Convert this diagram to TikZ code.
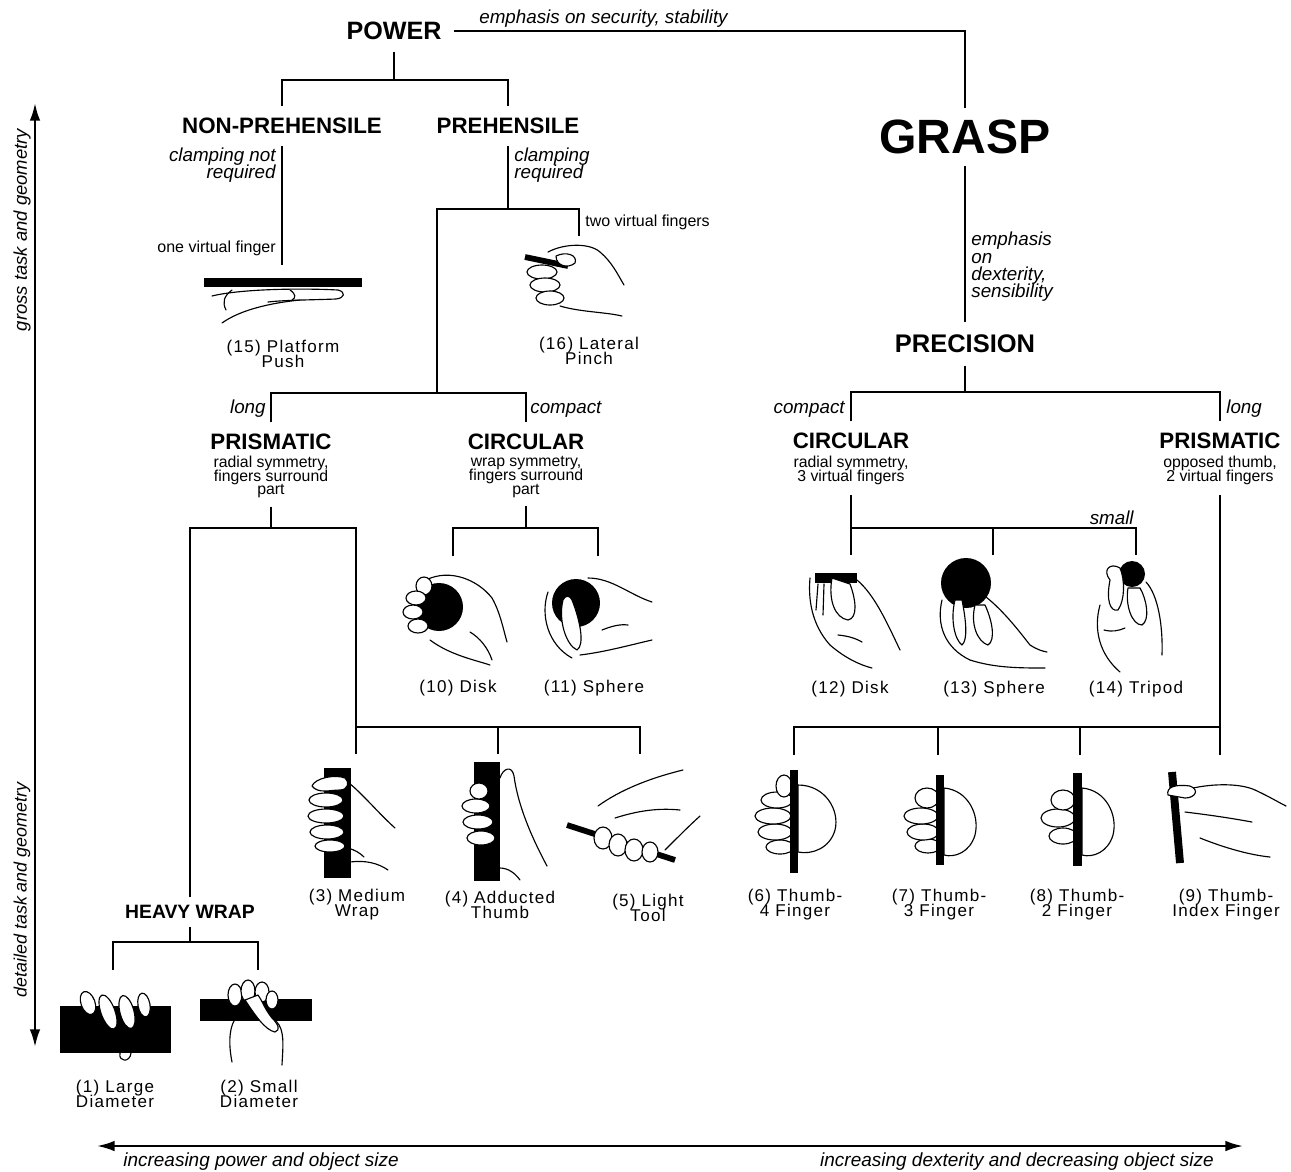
\documentclass[tikz,border=0pt]{standalone}
\usepackage{fontspec}
\setmainfont{Liberation Sans}
\newfontfamily\lspfont[LetterSpace=7.5]{Liberation Sans}
\usetikzlibrary{arrows.meta}
\newcommand\tightls{\lineskiplimit-20pt\relax}
\begin{document}
\begin{tikzpicture}[x=0.02cm,y=-0.02cm,
  tree/.style={line width=0.8pt},
  axis/.style={line width=1.3pt,{Latex[length=10pt,width=6pt]}-{Latex[length=10pt,width=6pt]}},
  cat/.style={font=\bfseries\fontsize{12.7}{14}\selectfont, inner sep=6.5pt},
  desc/.style={font=\fontsize{9}{7.9}\selectfont\tightls, align=center, inner xsep=0pt, inner ysep=4.5pt},
  itl/.style={font=\itshape\fontsize{10.7}{9.4}\selectfont\tightls, inner sep=0pt},
  axlbl/.style={font=\itshape\fontsize{10.5}{12}\selectfont, inner sep=0pt},
  axlblb/.style={font=\itshape\fontsize{10.8}{12}\selectfont, inner sep=0pt},
  note/.style={font=\fontsize{9.1}{10}\selectfont, inner sep=0pt},
  lbl/.style={font=\lspfont\fontsize{9.7}{8.5}\selectfont\tightls, align=center, inner sep=0pt},
  hand/.style={line width=0.65pt, fill=white, line join=round, line cap=round},
  handline/.style={line width=0.65pt, line cap=round, line join=round},
  obj/.style={fill=black}]
\useasboundingbox (0,0) rectangle (1291,1171);

% ---------- axes ----------
\coordinate (axT) at (35,103);
\coordinate (axB) at (35,1047);
\draw[axis] (axT) -- (axB);
\node[axlbl, rotate=90] (gross) at (22,230) {gross task and geometry};
\node[axlbl, font=\itshape\fontsize{10.2}{12}\selectfont, rotate=90] (detail) at (22,890) {detailed task and geometry};
\coordinate (axL) at (97,1146);
\coordinate (axR) at (1243,1146);
\draw[axis] (axL) -- (axR);
\node[axlblb, anchor=west] (incp) at (123,1162) {increasing power and object size};
\node[axlblb, anchor=east] (incd) at (1214,1162) {increasing dexterity and decreasing object size};

% ---------- top ----------
\node[cat, font=\bfseries\fontsize{14.3}{16}\selectfont, inner sep=6.8pt] (power) at (394,31) {POWER};
\node[cat, font=\bfseries\fontsize{27.4}{30}\selectfont, inner sep=6.5pt] (grasp) at (965,137) {GRASP};
\node[cat, font=\bfseries\fontsize{14.5}{16}\selectfont, inner sep=7pt] (prec) at (965,344) {PRECISION};
\draw[tree] (power.east) -- (power.east -| grasp.north) -- (grasp.north);
\node[itl, anchor=base west] (emph1) at (479,23) {emphasis on security, stability};
\draw[tree] (grasp.south) -- (prec.north);
\node[itl, align=left, anchor=west, font=\itshape\fontsize{10.7}{9.9}\selectfont\tightls] (emph2) at (971,267) {emphasis\\on\\dexterity,\\sensibility};

% ---------- power subtree ----------
\coordinate (pj) at (394,80);
\draw[tree] (power.south) -- (pj);
\node[cat] (nonp) at (282,126) {NON-PREHENSILE};
\node[cat] (preh) at (508,126) {PREHENSILE};
\draw[tree] (nonp.north) |- (pj) -| (preh.north);
\node[itl, align=right, anchor=east] (clampn) at (276,165) {clamping not\\required};
\node[itl, align=left, anchor=west] (clampr) at (514,165) {clamping\\required};
\coordinate (g15) at (282,265);
\draw[tree] (nonp.south) -- (g15);
\node[note, anchor=east] (onevf) at (276,248) {one virtual finger};
\coordinate (j2) at (508,209);
\draw[tree] (preh.south) -- (j2);
\coordinate (g16) at (579,236);
\coordinate (j3) at (437,393);
\draw[tree] (j3) |- (j2) -| (g16);
\node[note, anchor=west] (twovf) at (585,222) {two virtual fingers};

\node[cat] (prisL) at (271,442) {PRISMATIC};
\node[cat] (circL) at (526,442) {CIRCULAR};
\draw[tree] (prisL.north) |- (j3) -| (circL.north);
\node[itl, anchor=east] (longL) at (266,409) {long};
\node[itl, anchor=west] (compL) at (530,409) {compact};
\node[desc] (prisLd) at (271,477) {radial symmetry,\\fingers surround\\part};
\node[desc] (circLd) at (526,477) {wrap symmetry,\\fingers surround\\part};

\coordinate (j4) at (271,528);
\draw[tree] (prisLd.south) -- (j4);
\node[cat, font=\bfseries\fontsize{11}{13}\selectfont, inner sep=4.3pt] (heavy) at (190,912) {HEAVY WRAP};
\coordinate (j5) at (356,727);
\draw[tree] (heavy.north) |- (j4) -| (j5);
\coordinate (g3) at (356,754);
\coordinate (g4) at (498,754);
\coordinate (g5) at (640,754);
\draw[tree] (g3) |- (j5) -| (g5);
\draw[tree] (g4) -- (g4 |- j5);
\coordinate (j6) at (190,942);
\draw[tree] (heavy.south) -- (j6);
\coordinate (g1) at (113,970);
\coordinate (g2) at (258,970);
\draw[tree] (g1) |- (j6) -| (g2);

\coordinate (j7) at (526,528);
\draw[tree] (circLd.south) -- (j7);
\coordinate (g10) at (453,556);
\coordinate (g11) at (598,556);
\draw[tree] (g10) |- (j7) -| (g11);

% ---------- precision subtree ----------
\coordinate (j8) at (965,392);
\draw[tree] (prec.south) -- (j8);
\node[cat] (circR) at (851,441) {CIRCULAR};
\node[cat] (prisR) at (1220,441) {PRISMATIC};
\draw[tree] (circR.north) |- (j8) -| (prisR.north);
\node[itl, anchor=east] (compR) at (845,409) {compact};
\node[itl, anchor=west] (longR) at (1226,409) {long};
\node[desc, inner ysep=6pt] (circRd) at (851,470) {radial symmetry,\\3 virtual fingers};
\node[desc, inner ysep=6pt] (prisRd) at (1220,470) {opposed thumb,\\2 virtual fingers};

\coordinate (j9) at (851,528);
\coordinate (g12) at (851,555);
\coordinate (g13) at (993,555);
\coordinate (g14) at (1136,555);
\draw[tree] (circRd.south) -- (g12);
\draw[tree] (j9) -| (g14);
\draw[tree] (g13) -- (g13 |- j9);
\node[itl, anchor=east] (small) at (1134,518) {small};

\coordinate (j10) at (1220,727);
\coordinate (g6) at (794,755);
\coordinate (g7) at (938,755);
\coordinate (g8) at (1080,755);
\coordinate (g9) at (1220,755);
\draw[tree] (prisRd.south) -- (g9);
\draw[tree] (g6) |- (j10);
\draw[tree] (g7) -- (g7 |- j10);
\draw[tree] (g8) -- (g8 |- j10);

% ---------- labels ----------
\node[lbl] (l15) at (283,354) {(15) Platform\\Push};
\node[lbl] (l16) at (589,351) {(16) Lateral\\Pinch};
\node[lbl] (l10) at (458,688) {(10) Disk};
\node[lbl] (l11) at (594,688) {(11) Sphere};
\node[lbl] (l12) at (850,689) {(12) Disk};
\node[lbl] (l13) at (994,689) {(13) Sphere};
\node[lbl] (l14) at (1136,689) {(14) Tripod};
\node[lbl] (l3) at (357,905) {(3) Medium\\Wrap};
\node[lbl] (l4) at (500,905) {(4) Adducted\\Thumb};
\node[lbl] (l5) at (648,908) {(5) Light\\Tool};
\node[lbl] (l6) at (795,905) {(6) Thumb-\\4 Finger};
\node[lbl] (l7) at (939,905) {(7) Thumb-\\3 Finger};
\node[lbl] (l8) at (1077,905) {(8) Thumb-\\2 Finger};
\node[lbl] (l9) at (1226,905) {(9) Thumb-\\Index Finger};
\node[lbl] (l1) at (115,1094) {(1) Large\\Diameter};
\node[lbl] (l2) at (259,1094) {(2) Small\\Diameter};

% ---------- hand pictures ----------
% (15) platform push
\fill[obj] (204,278) rectangle (362,287);
\draw[handline] (212,296) .. controls (240,289) and (300,288) .. (338,290) .. controls (346,292) and (345,298) .. (336,299) .. controls (310,300) and (285,300) .. (268,302);
\draw[handline] (222,323) .. controls (240,310) and (270,303) .. (300,300);
\draw[handline] (232,290) .. controls (224,296) and (222,302) .. (226,310);
\draw[handline] (290,290) .. controls (296,294) and (296,298) .. (292,300);

% (16) lateral pinch
\draw[handline] (548,252) .. controls (565,243) and (590,243) .. (600,252) .. controls (612,262) and (618,275) .. (624,285);
\draw[hand] (542,272) ellipse (15 and 7);
\draw[hand] (545,285) ellipse (15 and 7);
\draw[hand] (550,298) ellipse (14 and 7);
\draw[handline] (560,306) .. controls (580,312) and (605,312) .. (622,316);
\draw[line width=3.3pt] (525,257) -- (568,266);
\draw[hand] (556,256) .. controls (566,251) and (578,255) .. (575,263) .. controls (568,269) and (556,266) .. cycle;

% (10) disk (power)
\fill[obj] (439,607) circle (24);
\draw[handline] (426,580) .. controls (450,568) and (478,580) .. (492,598) .. controls (500,612) and (503,628) .. (507,642);
\draw[handline] (430,640) .. controls (450,655) and (475,660) .. (490,665);
\draw[handline] (470,632) .. controls (480,638) and (488,648) .. (492,660);
\draw[hand] (424,586) ellipse (8 and 9);
\draw[hand] (416,598) ellipse (10 and 7);
\draw[hand] (413,612) ellipse (10 and 7);
\draw[hand] (418,626) ellipse (10 and 7);

% (11) sphere (power)
\fill[obj] (576,603) circle (24);
\draw[handline] (548,592) .. controls (540,615) and (548,645) .. (572,658);
\draw[handline] (580,655) .. controls (605,652) and (630,645) .. (652,640);
\draw[handline] (588,578) .. controls (612,578) and (630,595) .. (652,602);
\draw[handline] (602,630) .. controls (612,626) and (620,624) .. (628,625);
\draw[hand] (563,600) .. controls (558,620) and (566,645) .. (577,650) .. controls (585,645) and (580,620) .. (572,600) .. controls (570,595) and (565,595) .. cycle;

% (12) disk (precision)
\draw[handline] (810,578) .. controls (808,600) and (812,625) .. (830,645) .. controls (845,658) and (860,665) .. (872,668);
\draw[handline] (857,580) .. controls (875,595) and (888,625) .. (900,650);
\draw[handline] (838,635) .. controls (848,636) and (855,638) .. (862,642);
\fill[obj] (815,573) rectangle (857,583);
\draw[hand] (832,578) .. controls (828,600) and (835,618) .. (848,620) .. controls (858,618) and (856,600) .. (850,584) -- cycle;
\draw[handline] (818,584) -- (816,610);
\draw[handline] (824,584) -- (823,615);

% (13) sphere (precision)
\fill[obj] (966,583) circle (25);
\draw[handline] (942,600) .. controls (936,625) and (945,648) .. (970,660) .. controls (995,668) and (1020,668) .. (1045,668);
\draw[handline] (986,597) .. controls (1005,612) and (1022,635) .. (1030,645) .. controls (1038,650) and (1042,651) .. (1047,652);
\draw[hand] (955,600) .. controls (950,620) and (955,640) .. (962,645) .. controls (968,640) and (966,620) .. (962,600) -- cycle;
\draw[hand] (975,605) .. controls (970,625) and (978,642) .. (988,645) .. controls (996,640) and (992,620) .. (985,605) -- cycle;

% (14) tripod
\fill[obj] (1132,574) circle (13);
\draw[handline] (1100,605) .. controls (1093,630) and (1100,655) .. (1120,672);
\draw[handline] (1146,582) .. controls (1158,595) and (1163,625) .. (1162,655);
\draw[handline] (1104,630) .. controls (1112,632) and (1118,631) .. (1125,628);
\draw[hand] (1110,580) .. controls (1102,570) and (1110,562) .. (1120,568) .. controls (1125,580) and (1125,600) .. (1118,610) .. controls (1110,612) and (1106,600) .. cycle;
\draw[hand] (1128,588) .. controls (1125,605) and (1132,625) .. (1142,625) .. controls (1150,620) and (1147,600) .. (1140,588) -- cycle;

% (3) medium wrap
\fill[obj] (324,768) rectangle (351,878);
\draw[handline] (340,776) .. controls (360,790) and (375,810) .. (395,828);
\draw[handline] (350,862) .. controls (365,860) and (378,863) .. (388,870);
\draw[handline] (348,848) .. controls (355,850) and (360,853) .. (364,857);
\draw[hand] (330,846) ellipse (15 and 6);
\draw[hand] (327,832) ellipse (17 and 7);
\draw[hand] (326,816) ellipse (18 and 7);
\draw[hand] (326,800) ellipse (17 and 7);
\draw[hand] (312,786) .. controls (315,778) and (335,774) .. (345,778) .. controls (350,782) and (348,790) .. (340,790) .. controls (330,790) and (318,794) .. cycle;

% (4) adducted thumb
\fill[obj] (474,762) rectangle (500,881);
\draw[handline] (500,778) .. controls (503,768) and (512,765) .. (514,776) .. controls (518,806) and (532,838) .. (547,866);
\draw[handline] (500,868) .. controls (508,868) and (515,873) .. (520,880);
\draw[hand] (481,838) ellipse (14 and 7);
\draw[hand] (478,822) ellipse (15 and 7);
\draw[hand] (476,806) ellipse (14 and 7);
\draw[hand] (479,791) ellipse (9 and 8);

% (5) light tool
\draw[handline] (598,806) .. controls (620,790) and (650,778) .. (683,770);
\draw[handline] (615,818) .. controls (640,810) and (660,808) .. (680,810);
\draw[handline] (665,850) .. controls (680,835) and (690,825) .. (700,816);
\draw[line width=3.3pt] (567,825) -- (675,860);
\draw[hand] (603,838) ellipse (9 and 11);
\draw[hand] (618,845) ellipse (9 and 11);
\draw[hand] (634,850) ellipse (9 and 11);
\draw[hand] (650,852) ellipse (8 and 10);

% (6) thumb-4 finger
\draw[hand] (798,785) .. controls (825,785) and (840,810) .. (835,830) .. controls (830,848) and (812,855) .. (798,852) -- cycle;
\draw[hand] (780,847) ellipse (14 and 7);
\draw[hand] (775,832) ellipse (17 and 8);
\draw[hand] (773,816) ellipse (18 and 8);
\draw[hand] (777,800) ellipse (16 and 8);
\draw[hand] (784,786) ellipse (8 and 11);
\fill[obj] (790,770) rectangle (798,873);

% (7) thumb-3 finger
\draw[hand] (944,788) .. controls (968,790) and (980,815) .. (975,835) .. controls (970,852) and (955,858) .. (944,855) -- cycle;
\draw[hand] (928,846) ellipse (13 and 7);
\draw[hand] (923,832) ellipse (16 and 8);
\draw[hand] (921,816) ellipse (17 and 8);
\draw[hand] (927,798) ellipse (12 and 10);
\fill[obj] (936,775) rectangle (944,865);

% (8) thumb-2 finger
\draw[hand] (1082,788) .. controls (1106,790) and (1118,815) .. (1113,835) .. controls (1108,852) and (1093,858) .. (1082,855) -- cycle;
\draw[hand] (1063,836) ellipse (14 and 8);
\draw[hand] (1058,818) ellipse (17 and 9);
\draw[hand] (1063,800) ellipse (12 and 10);
\fill[obj] (1073,773) rectangle (1082,866);

% (9) thumb-index finger
\draw[handline] (1185,790) .. controls (1210,783) and (1240,783) .. (1255,790) .. controls (1270,797) and (1278,802) .. (1286,806);
\draw[handline] (1185,812) .. controls (1210,815) and (1230,818) .. (1252,822);
\draw[handline] (1200,838) .. controls (1225,848) and (1250,855) .. (1270,857);
\draw[line width=4.5pt] (1172,772) -- (1180,863);
\draw[hand] (1168,795) .. controls (1166,787) and (1175,784) .. (1190,786) .. controls (1200,790) and (1195,798) .. (1185,798) -- cycle;

% (1) large diameter
\fill[obj] (60,1006) rectangle (171,1053);
\draw[hand] (120,1053) .. controls (118,1062) and (130,1063) .. (131,1053);
\draw[hand, rotate around={20:(88,1003)}] (88,1003) ellipse (7 and 12);
\draw[hand, rotate around={20:(108,1012)}] (108,1012) ellipse (7 and 18);
\draw[hand, rotate around={15:(127,1012)}] (127,1012) ellipse (7 and 17);
\draw[hand, rotate around={10:(144,1005)}] (144,1005) ellipse (6 and 12);

% (2) small diameter
\fill[obj] (200,999) rectangle (312,1021);
\draw[handline] (232,1062) .. controls (228,1042) and (230,1028) .. (234,1021);
\draw[handline] (282,1065) .. controls (283,1045) and (285,1030) .. (276,1021);
\draw[hand] (235,995) ellipse (7 and 11);
\draw[hand] (248,991) ellipse (7 and 11);
\draw[hand] (262,992) ellipse (7 and 10);
\draw[hand] (272,1000) ellipse (6 and 9);
\draw[hand] (245,1000) .. controls (255,1015) and (265,1030) .. (275,1032) .. controls (281,1030) and (278,1024) .. (272,1018) .. controls (264,1008) and (262,1000) .. (258,995) -- cycle;
\end{tikzpicture}
\end{document}
